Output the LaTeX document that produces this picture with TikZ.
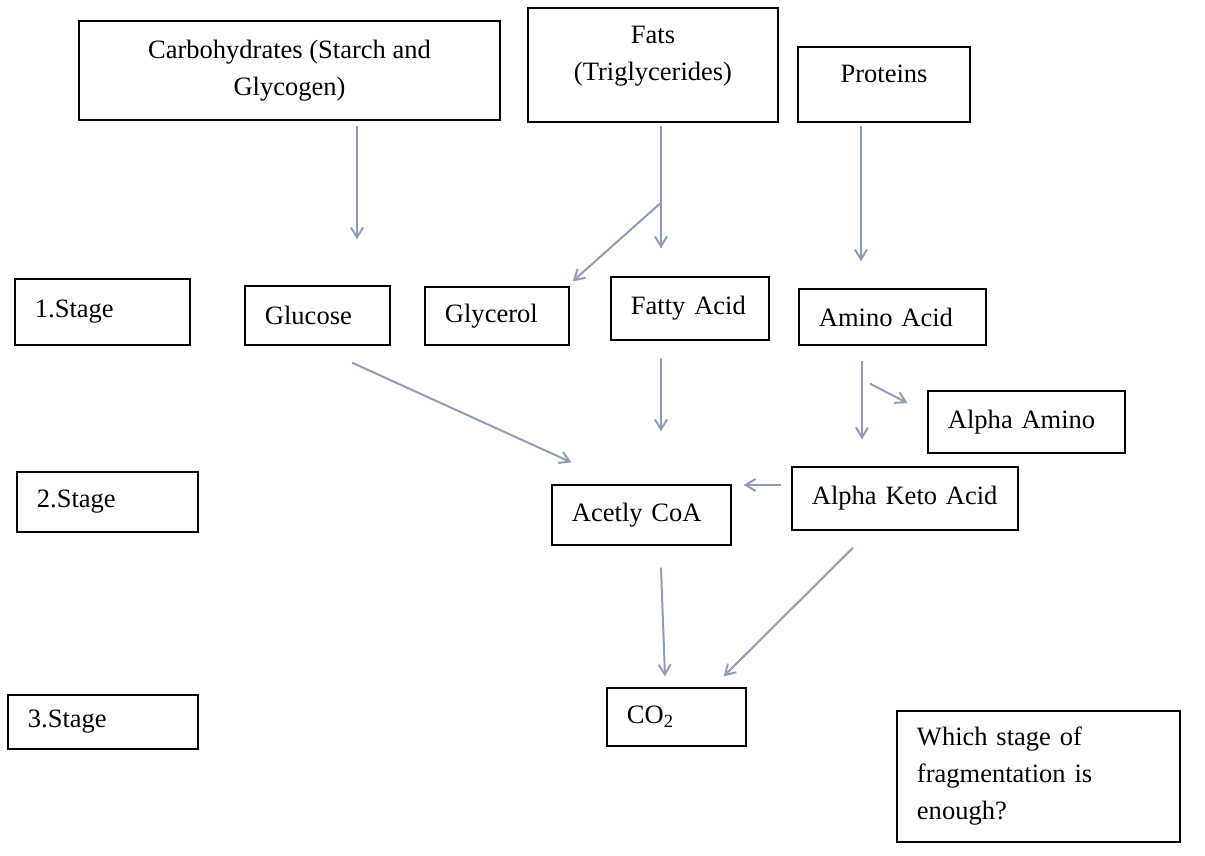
\documentclass[tikz,border=0pt]{standalone}
\usepackage{fontspec}
\setmainfont{Liberation Serif}
\usepackage{tikz}
\usetikzlibrary{arrows.meta,calc}
\definecolor{flowline}{HTML}{8D9DB4}
\tikzset{
  cbox/.style={draw=black,line width=0.9pt,inner sep=0pt,align=center},
  lbox/.style={draw=black,line width=0.9pt,inner xsep=0.5cm,inner ysep=0pt,align=left},
  flow/.style={-{Straight Barb[length=2.5mm,width=3mm]},line width=1.4pt,draw=flowline}
}

\begin{document}
\begin{tikzpicture}[x=0.025cm,y=-0.025cm,font=\fontsize{18.85}{26.3}\selectfont]
  \useasboundingbox (0,0) rectangle (1205,856);
  % sources
  \node[cbox,minimum width=10.525cm,minimum height=2.475cm] (carb) at (289.5,70.5) {Carbohydrates (Starch and\\Glycogen)};
  \node[cbox,minimum width=6.25cm,minimum height=2.85cm,text depth=0.57cm] (fats) at (653,65) {Fats\\(Triglycerides)};
  \node[cbox,minimum width=4.3cm,minimum height=1.875cm,text depth=0.55cm] (prot) at (884,84.5) {Proteins};
  % stage 1
  \node[lbox,text width=3.375cm,minimum height=1.65cm] (st1) at (102.5,312) {1.Stage};
  \node[lbox,text width=2.625cm,minimum height=1.475cm] (glu) at (317.5,315.5) {Glucose};
  \node[lbox,text width=2.6cm,minimum height=1.45cm] (glyc) at (497,316) {Glycerol};
  \node[lbox,text width=2.95cm,minimum height=1.575cm] (fatty) at (690,308.5) {Fatty Acid};
  \node[lbox,text width=3.675cm,minimum height=1.4cm] (amino) at (892.5,317) {Amino Acid};
  \node[lbox,text width=3.925cm,minimum height=1.55cm] (amam) at (1026.5,422) {Alpha Amino};
  % stage 2
  \node[lbox,text width=3.525cm,minimum height=1.5cm] (st2) at (107.5,502) {2.Stage};
  \node[lbox,text width=4.65cm,minimum height=1.575cm] (keto) at (905,498.5) {Alpha Keto Acid};
  \node[lbox,text width=3.475cm,minimum height=1.5cm] (acet) at (641.5,515) {Acetly CoA};
  % stage 3
  \node[lbox,text width=3.75cm,minimum height=1.35cm] (st3) at (103,722) {3.Stage};
  \node[lbox,text width=2.475cm,minimum height=1.45cm] (co2) at (676.5,717) {CO\textsubscript{2}};
  \node[lbox,text width=6.075cm,minimum height=3.275cm] (quest) at (1038.5,776.5) {Which stage of\\fragmentation is\\enough?};
  % arrows
  \coordinate (split) at ($(fats.south)+(8,80)$);
  \draw[flow] ($(carb.south)+(67.5,5)$) -- ($(glu.north)+(39.5,-46)$);
  \draw[flow] ($(fats.south)+(8,3)$) -- ($(fatty.north)+(-29,-28)$);
  \draw[flow] (split) -- ($(glyc.north east)+(3,-5)$);
  \draw[flow] ($(prot.south)+(-23,3)$) -- ($(amino.north)+(-31.5,-27)$);
  \draw[flow] ($(glu.south)+(34.5,17)$) -- ($(acet.north west)+(20,-22)$);
  \draw[flow] ($(fatty.south)+(-29,18)$) -- ($(acet.north)+(19.5,-53)$);
  \draw[flow] ($(amino.south)+(-30.5,15)$) -- ($(keto.north)+(-43,-27)$);
  \draw[flow] ($(amino.south)+(-22.5,38)$) -- ($(amam.west)+(-20,-19)$);
  \draw[flow] ($(keto.west)+(-10,-13.5)$) -- ($(acet.east)+(12,-30)$);
  \draw[flow] ($(acet.south)+(19.5,22)$) -- ($(co2.north)+(-11.5,-11)$);
  \draw[flow] ($(keto.south)+(-52,17)$) -- ($(co2.north east)+(-23,-11)$);
\end{tikzpicture}
\end{document}
